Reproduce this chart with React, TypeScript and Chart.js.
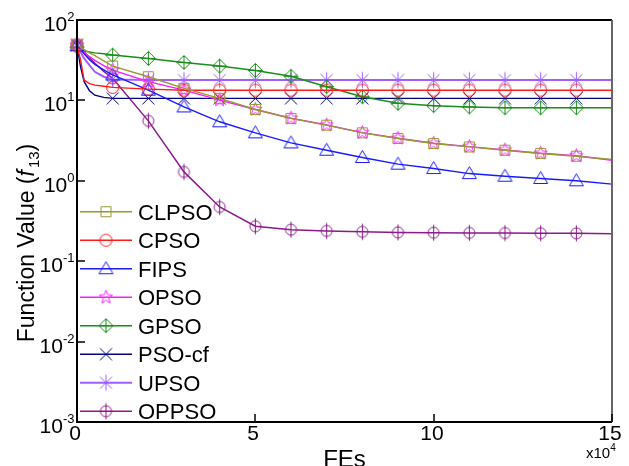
import React, { useEffect, useRef } from 'react';
import { Chart, registerables } from 'chart.js';
Chart.register(...registerables);

const FONT = 'Arial, "Liberation Sans", Helvetica, sans-serif';

// FEs in units of 10^4
const FEs = [0, 0.1, 0.2, 0.35, 0.5, 0.75, 1, 2, 3, 4, 5, 6, 7, 8, 9, 10, 11, 12, 13, 14, 15];
const CLPSO = [50, 46, 43, 39, 36, 31, 26.7, 19.7, 14.1, 10.6, 7.7, 5.97, 4.92, 3.95, 3.36, 2.91, 2.64, 2.4, 2.19, 2.02, 1.84];
const CPSO = [48, 31.8, 17.9, 16.2, 15.5, 15.0, 14.5, 13.8, 13.4, 13.4, 13.4, 13.4, 13.4, 13.4, 13.4, 13.4, 13.4, 13.4, 13.4, 13.4, 13.4];
const FIPS = [48, 43, 38, 32, 28, 24, 20.7, 13.4, 8.3, 5.42, 3.95, 2.96, 2.4, 1.95, 1.61, 1.42, 1.23, 1.14, 1.07, 1.0, 0.91];
const OPSO = [49, 44, 40, 35, 31.5, 27, 23.8, 17.1, 13.4, 10.1, 7.7, 6.0, 4.95, 3.97, 3.38, 2.93, 2.66, 2.42, 2.2, 2.05, 1.8];
const GPSO = [46, 42, 41, 40, 39, 38, 36.6, 33.3, 29.7, 26.7, 23.6, 20, 14.8, 11.1, 9.2, 8.6, 8.3, 8.1, 8.1, 8.1, 8.1];
const PSOcf = [48, 26.2, 17.1, 13.2, 11.6, 10.9, 10.6, 10.6, 10.6, 10.6, 10.6, 10.6, 10.6, 10.6, 10.6, 10.6, 10.6, 10.6, 10.6, 10.6, 10.6];
const UPSO = [50, 40, 33.3, 27.5, 22.7, 19.7, 18.2, 17.9, 17.9, 17.9, 17.9, 17.9, 17.9, 17.9, 17.9, 17.9, 17.9, 17.9, 17.9, 17.9, 17.9];
const OPPSO = [50, 44, 40, 34, 29, 23, 18.8, 5.57, 1.29, 0.473, 0.272, 0.247, 0.238, 0.232, 0.228, 0.226, 0.225, 0.224, 0.223, 0.222, 0.22];

const NAMES = ['CLPSO', 'CPSO', 'FIPS', 'OPSO', 'GPSO', 'PSO-cf', 'UPSO', 'OPPSO'];
const VALUES = [CLPSO, CPSO, FIPS, OPSO, GPSO, PSOcf, UPSO, OPPSO];
const COLORS = ['#999933', '#ff1a1a', '#1a1aff', '#ff1aff', '#1a8c1a', '#000080', '#9f5fff', '#8b1a8b'];
const WIDTHS = [1.4, 1.4, 1.4, 1.4, 1.5, 1.4, 2, 1.5];
const MARKERS = ['square', 'circle', 'triangle', 'star5', 'diamond', 'x', 'asterisk', 'circlebar'];

const Y_EXPONENTS = [2, 1, 0, -1, -2, -3];
const X_TICKS = [0, 5, 10, 15];

function makeMarker(kind: string, color: string): HTMLCanvasElement {
  const s = 19;
  const c = document.createElement('canvas');
  c.width = s;
  c.height = s;
  const g = c.getContext('2d')!;
  g.strokeStyle = color;
  g.lineWidth = 1;
  const m = s / 2;
  g.beginPath();
  switch (kind) {
    case 'square':
      g.rect(m - 5, m - 5, 10, 10);
      break;
    case 'circle':
      g.arc(m, m, 6, 0, Math.PI * 2);
      break;
    case 'triangle':
      g.moveTo(m, m - 7);
      g.lineTo(m + 7, m + 5);
      g.lineTo(m - 7, m + 5);
      g.closePath();
      break;
    case 'star5': {
      for (let i = 0; i < 10; i++) {
        const r = i % 2 === 0 ? 7 : 3;
        const a = -Math.PI / 2 + (i * Math.PI) / 5;
        const px = m + r * Math.cos(a);
        const py = m + r * Math.sin(a);
        if (i === 0) g.moveTo(px, py);
        else g.lineTo(px, py);
      }
      g.closePath();
      break;
    }
    case 'diamond':
      g.moveTo(m, m - 7);
      g.lineTo(m + 7, m);
      g.lineTo(m, m + 7);
      g.lineTo(m - 7, m);
      g.closePath();
      g.moveTo(m, m - 7);
      g.lineTo(m, m + 7);
      g.moveTo(m - 7, m);
      g.lineTo(m + 7, m);
      break;
    case 'x':
      g.moveTo(m - 6, m - 6);
      g.lineTo(m + 6, m + 6);
      g.moveTo(m + 6, m - 6);
      g.lineTo(m - 6, m + 6);
      break;
    case 'asterisk':
      g.moveTo(m - 6, m - 6);
      g.lineTo(m + 6, m + 6);
      g.moveTo(m + 6, m - 6);
      g.lineTo(m - 6, m + 6);
      g.moveTo(m, m - 8);
      g.lineTo(m, m + 8);
      break;
    case 'circlebar':
      g.arc(m, m, 5.5, 0, Math.PI * 2);
      g.moveTo(m, m - 8);
      g.lineTo(m, m + 8);
      break;
  }
  g.stroke();
  return c;
}

function drawPow(ctx: CanvasRenderingContext2D, exp: number, rightX: number, tickY: number) {
  const sup = exp < 0 ? '-' + String(-exp) : String(exp);
  ctx.textAlign = 'left';
  ctx.textBaseline = 'alphabetic';
  ctx.font = `13px ${FONT}`;
  const ws = ctx.measureText(sup).width;
  ctx.font = `21px ${FONT}`;
  const wb = ctx.measureText('10').width;
  ctx.fillText('10', rightX - ws - wb, tickY + 11);
  ctx.font = `13px ${FONT}`;
  ctx.fillText(sup, rightX - ws, tickY + 1);
}

export default function App() {
  const ref = useRef<HTMLCanvasElement | null>(null);

  useEffect(() => {
    if (!ref.current) return;
    const markers = MARKERS.map((k, i) => makeMarker(k, COLORS[i]));

    const decor = {
      id: 'decor',
      afterDraw(chart: any) {
        const ctx: CanvasRenderingContext2D = chart.ctx;
        const a = chart.chartArea;
        const xs = chart.scales.x;
        const ys = chart.scales.y;
        ctx.save();
        // frame
        ctx.lineWidth = 2;
        ctx.strokeStyle = '#000';
        ctx.beginPath();
        ctx.moveTo(a.right, a.top);
        ctx.lineTo(a.left, a.top);
        ctx.lineTo(a.left, a.bottom);
        ctx.lineTo(a.right, a.bottom);
        ctx.stroke();
        ctx.strokeStyle = '#666';
        ctx.beginPath();
        ctx.moveTo(a.right, a.top);
        ctx.lineTo(a.right, a.bottom);
        ctx.stroke();

        // y ticks + labels
        ctx.strokeStyle = '#000';
        ctx.lineWidth = 1.5;
        ctx.fillStyle = '#000';
        Y_EXPONENTS.forEach((e) => {
          const y = Math.round(ys.getPixelForValue(Math.pow(10, e)));
          ctx.beginPath();
          ctx.moveTo(a.left, y);
          ctx.lineTo(a.left + 8, y);
          ctx.stroke();
          drawPow(ctx, e, 74.5, y);
        });

        // x ticks + labels
        X_TICKS.forEach((t) => {
          const x = Math.round(xs.getPixelForValue(t));
          ctx.beginPath();
          ctx.moveTo(x, a.bottom);
          ctx.lineTo(x, a.bottom - 8);
          ctx.stroke();
          ctx.font = `21px ${FONT}`;
          ctx.textAlign = 'center';
          ctx.textBaseline = 'alphabetic';
          ctx.fillText(String(t), x - 2, 440);
        });

        // x10^4
        ctx.textAlign = 'left';
        ctx.font = `15px ${FONT}`;
        ctx.fillText('x10', 586, 458);
        const w10 = ctx.measureText('x10').width;
        ctx.font = `10px ${FONT}`;
        ctx.fillText('4', 586 + w10, 451);

        // x title
        ctx.font = `24px ${FONT}`;
        ctx.textAlign = 'center';
        ctx.fillText('FEs', (a.left + a.right) / 2, 467);

        // y title
        ctx.save();
        ctx.translate(34, 243);
        ctx.rotate(-Math.PI / 2);
        ctx.textAlign = 'left';
        const parts = [
          { t: 'Function Value (', f: `23px ${FONT}`, dy: 0 },
          { t: 'f', f: `italic 23px ${FONT}`, dy: 0 },
          { t: '13', f: `15px ${FONT}`, dy: 5 },
          { t: ')', f: `23px ${FONT}`, dy: 0 },
        ];
        let total = 0;
        parts.forEach((p) => {
          ctx.font = p.f;
          total += ctx.measureText(p.t).width + (p.t === 'f' ? 2 : 0);
        });
        let cx = -total / 2;
        parts.forEach((p) => {
          ctx.font = p.f;
          ctx.fillText(p.t, cx, p.dy);
          cx += ctx.measureText(p.t).width + (p.t === 'f' ? 2 : 0);
        });
        ctx.restore();

        // legend
        NAMES.forEach((name, i) => {
          const y = 211.7 + i * 28.5;
          ctx.strokeStyle = COLORS[i];
          ctx.lineWidth = WIDTHS[i];
          ctx.beginPath();
          ctx.moveTo(80, y);
          ctx.lineTo(132, y);
          ctx.stroke();
          const mk = markers[i];
          ctx.drawImage(mk, 106 - mk.width / 2, y - mk.height / 2);
          ctx.fillStyle = '#000';
          ctx.font = `22px ${FONT}`;
          ctx.textAlign = 'left';
          ctx.textBaseline = 'alphabetic';
          ctx.fillText(name, 138, y + 8);
        });
        ctx.restore();
      },
    };

    const chart = new Chart(ref.current, {
      type: 'line',
      data: {
        datasets: NAMES.map((name, i) => ({
          label: name,
          data: FEs.map((x, j) => ({ x, y: VALUES[i][j] })),
          borderColor: COLORS[i],
          backgroundColor: COLORS[i],
          borderWidth: WIDTHS[i],
          pointStyle: markers[i] as any,
          pointRadius: (c: any) => {
            const x = FEs[c.dataIndex];
            return Number.isInteger(x) && x <= 14 ? 7 : 0;
          },
          pointHoverRadius: 0,
          tension: 0,
          fill: false,
          clip: false as any,
        })),
      },
      options: {
        responsive: false,
        animation: false,
        events: [],
        layout: { padding: { left: 0, top: 20, right: 17, bottom: 0 } },
        plugins: { legend: { display: false }, tooltip: { enabled: false } },
        scales: {
          x: {
            type: 'linear',
            min: 0,
            max: 15,
            grid: { display: false },
            border: { display: false },
            ticks: { display: false },
            afterFit: (s: any) => {
              s.height = 44;
            },
          },
          y: {
            type: 'logarithmic',
            min: 0.001,
            max: 100,
            grid: { display: false },
            border: { display: false },
            ticks: { display: false },
            afterFit: (s: any) => {
              s.width = 77;
            },
          },
        },
      },
      plugins: [decor],
    });
    return () => chart.destroy();
  }, []);

  return (
    <div style={{ position: 'fixed', left: 0, top: 0, width: 629, height: 466, background: '#fff' }}>
      <canvas ref={ref} width={629} height={466} style={{ display: 'block' }} />
    </div>
  );
}
